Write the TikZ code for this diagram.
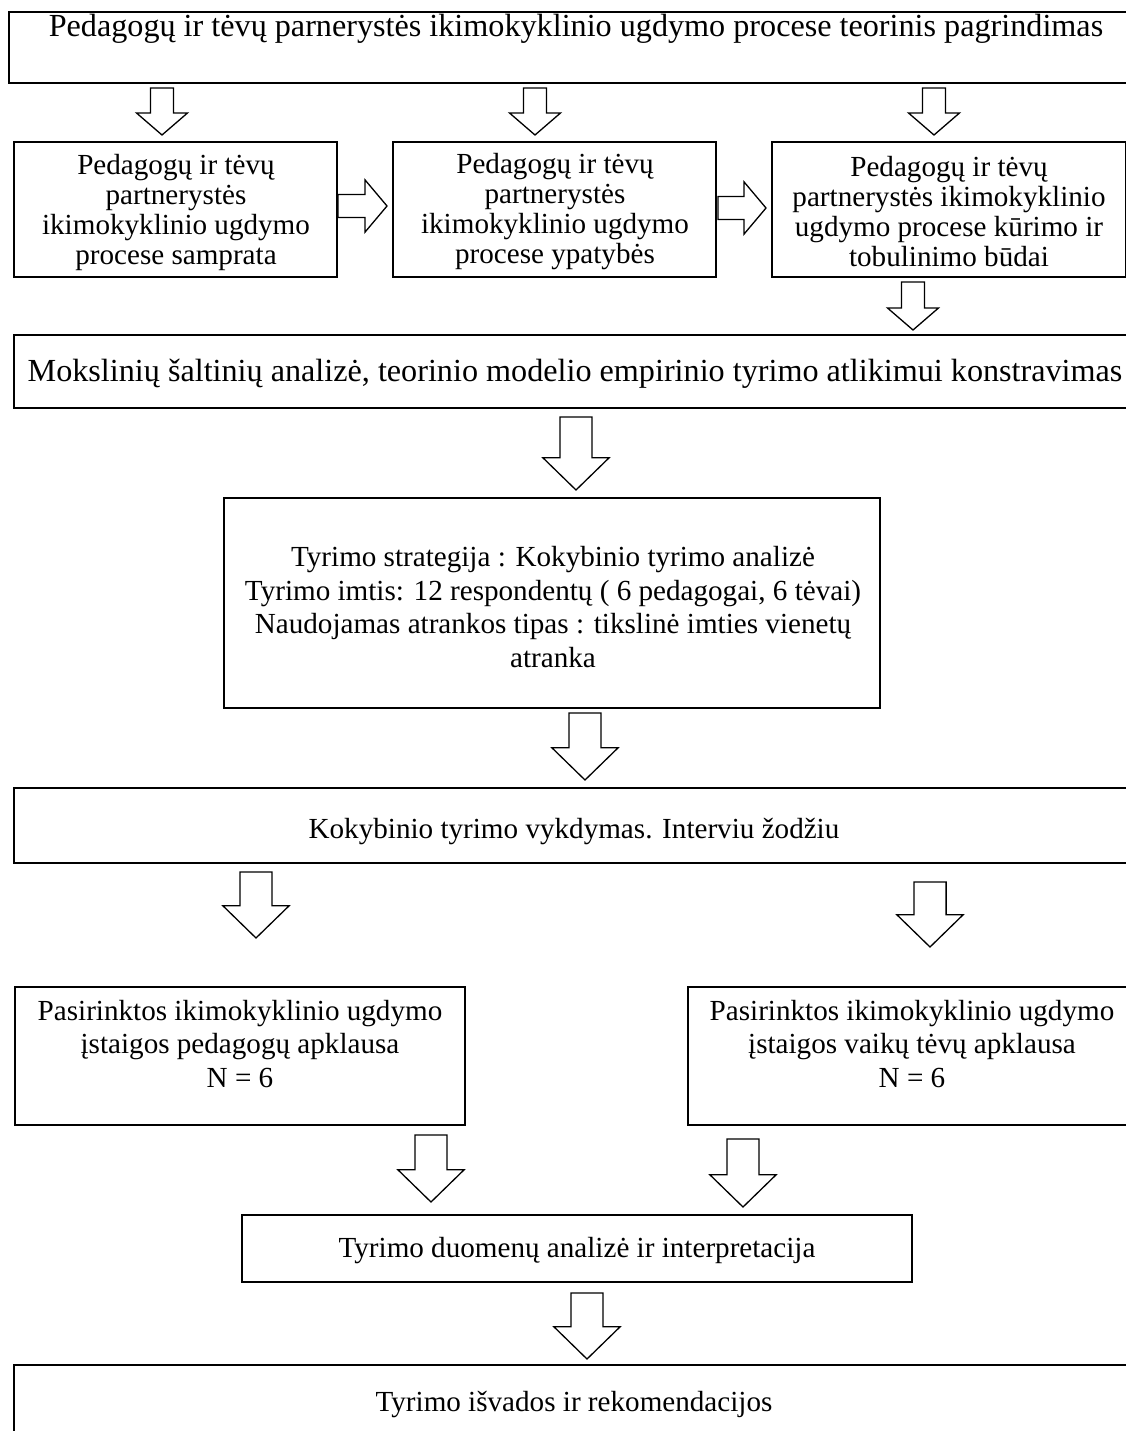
\documentclass[tikz,border=0pt]{standalone}
\usepackage{fontspec}
\setmainfont{Liberation Serif}
\usetikzlibrary{calc,fit,positioning}
\tikzset{>=stealth}
\tikzset{
  box/.style={draw,line width=0.9pt,inner sep=0pt},
  txt/.style={inner sep=0pt,align=center,font=\fontsize{13.4}{13.8}\selectfont},
  wtxt/.style={inner sep=0pt,align=center,font=\fontsize{13.4}{15.4}\selectfont},
  bigtxt/.style={inner sep=0pt,font=\fontsize{14.8}{16}\selectfont},
  darr/.style n args={3}{line width=0.6pt,line join=miter,to path={let \p1=(\tikztostart),\p2=(\tikztotarget) in
    (\x1-#1,\y1) -- (\x1+#1,\y1) -- (\x1+#1,\y2+#3) -- (\x1+#2,\y2+#3) -- (\x1,\y2)
    -- (\x1-#2,\y2+#3) -- (\x1-#1,\y2+#3) -- cycle}},
  rarr/.style n args={3}{line width=0.6pt,line join=miter,to path={let \p1=(\tikztostart),\p2=(\tikztotarget) in
    (\x1,\y1+#1) -- (\x2-#3,\y1+#1) -- (\x2-#3,\y1+#2) -- (\x2,\y1)
    -- (\x2-#3,\y1-#2) -- (\x2-#3,\y1-#1) -- (\x1,\y1-#1) -- cycle}},
  sarr/.style={darr={5.3pt}{11.7pt}{10.1pt}},
  larr/.style={darr={7.4pt}{15.2pt}{14.8pt}},
  harr/.style={rarr={5.3pt}{12pt}{10.1pt}}
}
\begin{document}
\begin{tikzpicture}[x=0.46pt,y=-0.46pt]
        \clip (0,0) rectangle (1126,1431);
        \coordinate (a1) at (162,88);   \coordinate (b1) at (162,135);
        \coordinate (a2) at (535,88);   \coordinate (b2) at (535,135);
        \coordinate (a3) at (934,88);   \coordinate (b3) at (934,135);
        \coordinate (h1) at (338,206);  \coordinate (k1) at (387,206);
        \coordinate (h2) at (718,208);  \coordinate (k2) at (766,208);
        \coordinate (a4) at (913,282);  \coordinate (b4) at (913,330);
        \coordinate (a5) at (576,417);  \coordinate (b5) at (576,490);
        \coordinate (a6) at (585,713);  \coordinate (b6) at (585,780);
        \coordinate (a7) at (256,872);  \coordinate (b7) at (256,938);
        \coordinate (a8) at (930,882);  \coordinate (b8) at (930,947);
        \coordinate (a9) at (431,1135); \coordinate (b9) at (431,1202);
        \coordinate (a10) at (743,1139); \coordinate (b10) at (743,1207);
        \coordinate (a11) at (587,1293); \coordinate (b11) at (587,1359);
        \node[box,fit={(9,12) (1141,83)}] (P0) {};
        \node[box,fit={(14,142) (337,277)}] (P1) {};
        \node[box,fit={(393,142) (716,277)}] (P2) {};
        \node[box,fit={(772,142) (1126,277)}] (P3) {};
        \node[box,fit={(14,335) (1136,408)}] (M) {};
        \node[box,fit={(224,498) (880,708)}] (S) {};
        \node[box,fit={(14,788) (1134,863)}] (K) {};
        \node[box,fit={(15,987) (465,1125)}] (L) {};
        \node[box,fit={(688,987) (1136,1125)}] (R) {};
        \node[box,fit={(242,1215) (912,1282)}] (D) {};
        \node[box,fit={(14,1365) (1134,1440)}] (I) {};
        \node[bigtxt] (P0t) at (576,29) {Pedagogų ir tėvų parnerystės ikimokyklinio ugdymo procese teorinis pagrindimas};
        \node[txt] (P1t) at (176,212) {Pedagogų ir tėvų\\partnerystės\\ikimokyklinio ugdymo\\procese samprata};
        \node[txt] (P2t) at (555,212) {Pedagogų ir tėvų\\partnerystės\\ikimokyklinio ugdymo\\procese ypatybės};
        \node[txt] (P3t) at (949,212) {Pedagogų ir tėvų\\partnerystės ikimokyklinio\\ugdymo procese kūrimo ir\\tobulinimo būdai};
        \node[bigtxt] (Mt) at (575,374) {Mokslinių šaltinių analizė, teorinio modelio empirinio tyrimo atlikimui konstravimas};
        \node[wtxt] (St) at (553,607) {Tyrimo strategija : Kokybinio tyrimo analizė\\Tyrimo imtis: 12 respondentų ( 6 pedagogai, 6 tėvai)\\Naudojamas atrankos tipas : tikslinė imties vienetų\\atranka};
        \node[txt] (Kt) at (574,831) {Kokybinio tyrimo vykdymas. Interviu žodžiu};
        \node[wtxt] (Lt) at (240,1044) {Pasirinktos ikimokyklinio ugdymo\\įstaigos pedagogų apklausa\\N = 6};
        \node[wtxt] (Rt) at (912,1044) {Pasirinktos ikimokyklinio ugdymo\\įstaigos vaikų tėvų apklausa\\N = 6};
        \node[txt] (Dt) at (577,1251) {Tyrimo duomenų analizė ir interpretacija};
        \node[txt] (It) at (574,1404) {Tyrimo išvados ir rekomendacijos};
        \draw[sarr] (a1) to (b1);
        \draw[sarr] (a2) to (b2);
        \draw[sarr] (a3) to (b3);
        \draw[harr] (h1) to (k1);
        \draw[harr] (h2) to (k2);
        \draw[sarr] (a4) to (b4);
        \draw[larr] (a5) to (b5);
        \draw[larr] (a6) to (b6);
        \draw[larr] (a7) to (b7);
        \draw[larr] (a8) to (b8);
        \draw[larr] (a9) to (b9);
        \draw[larr] (a10) to (b10);
        \draw[larr] (a11) to (b11);
      \end{tikzpicture}
\end{document}
